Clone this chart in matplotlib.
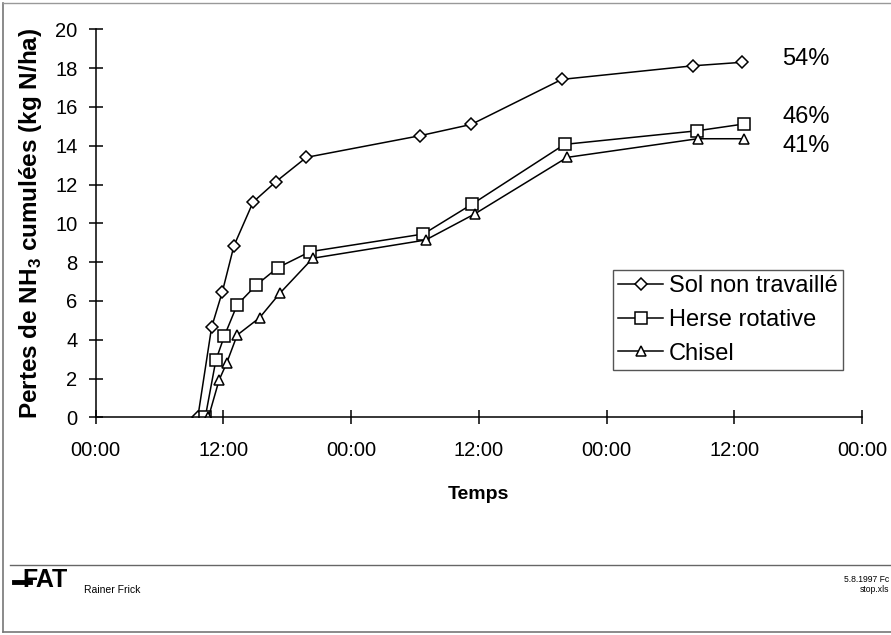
import matplotlib
matplotlib.use("Agg")
import matplotlib.pyplot as plt
from matplotlib.lines import Line2D

plt.rcParams['font.family'] = ['Liberation Sans', 'DejaVu Sans']
plt.rcParams['mathtext.fontset'] = 'custom'
plt.rcParams['mathtext.rm'] = 'Liberation Sans'
plt.rcParams['mathtext.bf'] = 'Liberation Sans:bold'

# heures depuis 00:00 du premier jour
sol_t = [9.6, 10.9, 11.9, 13.0, 14.8, 16.9, 19.8, 30.5, 35.3, 43.8, 56.1, 60.7]
sol_y = [0, 4.65, 6.46, 8.85, 11.1, 12.13, 13.4, 14.52, 15.1, 17.42, 18.12, 18.3]
herse_t = [10.3, 11.3, 12.1, 13.3, 15.1, 17.1, 20.15, 30.8, 35.4, 44.05, 56.5, 60.9]
herse_y = [0, 2.95, 4.2, 5.8, 6.82, 7.71, 8.54, 9.45, 11.0, 14.07, 14.77, 15.12]
chisel_t = [10.6, 11.6, 12.3, 13.3, 15.4, 17.3, 20.4, 31.0, 35.6, 44.3, 56.55, 60.9]
chisel_y = [0, 1.92, 2.78, 4.24, 5.13, 6.39, 8.2, 9.14, 10.48, 13.4, 14.36, 14.36]

labels = ['Sol non travaillé', 'Herse rotative', 'Chisel']
pct = ['54%', '46%', '41%']
pct_y = [18.45, 15.5, 14.0]

xticks = [0, 12, 24, 36, 48, 60, 72]
xticklabels = ['00:00', '12:00', '00:00', '12:00', '00:00', '12:00', '00:00']

fig = plt.figure(figsize=(8.91, 6.35), dpi=100)
ax = fig.add_axes([0.1073, 0.3428, 0.8602, 0.611])

kw = dict(color='black', lw=1.1, mfc='white', mec='black', mew=1.1)
ax.plot(sol_t, sol_y, marker='D', ms=6, label=labels[0], **kw)
ax.plot(herse_t, herse_y, marker='s', ms=8, label=labels[1], **kw)
ax.plot(chisel_t, chisel_y, marker='^', ms=7.5, label=labels[2], **kw)

for p, yy in zip(pct, pct_y):
    ax.text(64.5, yy, p, fontsize=17, va='center', ha='left')

ax.set_xlim(0, 72)
ax.set_ylim(0, 20)
ax.set_xticks(xticks)
ax.set_xticklabels(xticklabels)
ax.set_yticks(range(0, 21, 2))
ax.tick_params(direction='inout', length=10, width=1.1, labelsize=14.5)
ax.tick_params(axis='y', pad=8)
ax.tick_params(axis='x', pad=12)
for s in ['top', 'right']:
    ax.spines[s].set_visible(False)
for s in ['left', 'bottom']:
    ax.spines[s].set_linewidth(1.1)
    ax.spines[s].set_clip_on(False)

ax.set_xlabel('Temps', fontsize=14, fontweight='bold', labelpad=19)
ax.set_ylabel(r'Pertes de NH$_{\mathbf{3}}$ cumulées (kg N/ha)', fontsize=17.5,
              fontweight='bold', labelpad=8)

leg = ax.legend(loc='upper left', bbox_to_anchor=(0.675, 0.38), borderaxespad=0,
                fontsize=17, handlelength=1.9, handletextpad=0.25,
                labelspacing=0.5, fancybox=False, framealpha=1,
                borderpad=0.22)
leg.get_frame().set_edgecolor('#555555')
leg.get_frame().set_linewidth(1.0)

# cadre de la page et pied de page
fig.add_artist(Line2D([3/891, 3/891], [3/635, 632/635], color='#777777', lw=1.2))
fig.add_artist(Line2D([3/891, 1], [632/635, 632/635], color='#999999', lw=1.0))
fig.add_artist(Line2D([3/891, 1], [3/635, 3/635], color='#777777', lw=1.2))
fig.add_artist(Line2D([10/891, 1], [1 - 564.5/635, 1 - 564.5/635], color='#666666', lw=1.0))

fig.add_artist(Line2D([14/891, 30/891], [1 - 582/635, 1 - 582/635], color='black', lw=3.5))
fig.text(22/891, 1 - 580/635, 'FAT', fontsize=18, fontweight='heavy', va='center', ha='left')
fig.text(84/891, 1 - 590/635, 'Rainer Frick', fontsize=7.5, va='center', ha='left')
fig.text(889/891, 1 - 580/635, '5.8.1997 Fc', fontsize=6.2, va='center', ha='right')
fig.text(889/891, 1 - 589/635, 'stop.xls', fontsize=6.2, va='center', ha='right')

fig.savefig('out.png', dpi=100)
